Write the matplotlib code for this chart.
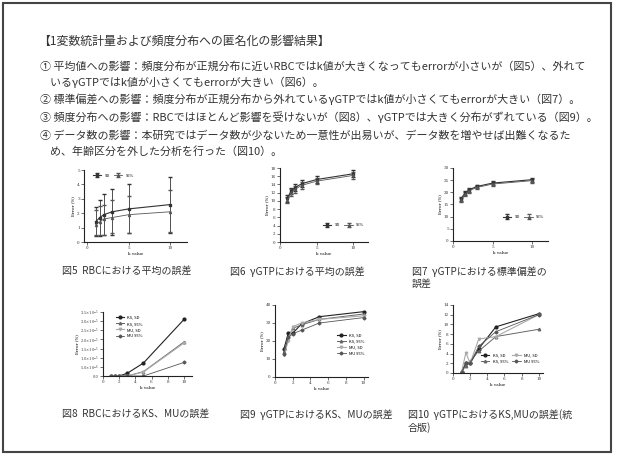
import numpy as np
import matplotlib
matplotlib.use("Agg")
from matplotlib import pyplot as plt
from matplotlib.patches import Rectangle

plt.rcParams['font.family'] = ['Noto Sans CJK JP', 'DejaVu Sans']
plt.rcParams['mathtext.fontset'] = 'dejavuserif'

W, H = 622, 459

# ---- text ----
title = "【1変数統計量および頻度分布への匿名化の影響結果】"
body = [
    "① 平均値への影響：頻度分布が正規分布に近いRBCではk値が大きくなってもerrorが小さいが（図5）、外れて",
    "    いるγGTPではk値が小さくてもerrorが大きい（図6）。",
    "② 標準偏差への影響：頻度分布が正規分布から外れているγGTPではk値が小さくてもerrorが大きい（図7）。",
    "③ 頻度分布への影響：RBCではほとんど影響を受けないが（図8）、γGTPでは大きく分布がずれている（図9）。",
    "④ データ数の影響：本研究ではデータ数が少ないため一意性が出易いが、データ数を増やせば出難くなるた",
    "    め、年齢区分を外した分析を行った（図10）。",
]
captions = ["図5  RBCにおける平均の誤差", "図6  γGTPにおける平均の誤差",
            "図7  γGTPにおける標準偏差の\n誤差",
            "図8  RBCにおけるKS、MUの誤差", "図9  γGTPにおけるKS、MUの誤差",
            "図10  γGTPにおけるKS,MUの誤差(統\n合版)"]

# ---- data ----
k_values = [1, 1.5, 2, 3, 5, 10]

# fig5 RBC mean error
rbc_sd = [1.4, 1.7, 1.9, 2.1, 2.3, 2.6]
rbc_sd_lo = [0.4, 0.4, 0.5, 0.5, 0.6, 0.6]
rbc_sd_hi = [2.4, 2.9, 3.3, 3.7, 4.0, 4.5]
rbc_95 = [1.2, 1.4, 1.6, 1.7, 1.9, 2.1]
rbc_95_lo = [0.5, 0.5, 0.5, 0.6, 0.6, 0.7]
rbc_95_hi = [2.2, 2.5, 2.6, 2.9, 3.2, 3.6]

# fig6 gGTP mean error
gtp_mean_sd = [10.6, 12.4, 13.2, 14.2, 15.2, 16.6]
gtp_mean_95 = [10.2, 12.0, 12.8, 13.8, 14.8, 16.2]
gtp_mean_err = [0.8, 0.8, 0.8, 0.8, 0.8, 0.8]

# fig7 gGTP sd error
gtp_std_sd = [17.4, 19.6, 21.0, 22.4, 23.8, 25.2]
gtp_std_95 = [17.0, 19.2, 20.6, 22.0, 23.4, 24.8]
gtp_std_err = [0.8, 0.8, 0.8, 0.8, 0.8, 0.8]

# fig8 RBC KS/MU (x1e-5)
rbc_ks_sd = [0, 0, 0, 0.15, 0.71, 3.09]
rbc_ks_95 = [0, 0, 0, 0, 0.24, 1.86]
rbc_mu_sd = [0, 0, 0, 0, 0.22, 1.80]
rbc_mu_95 = [0, 0, 0, 0, 0.0, 0.74]

# fig9 gGTP KS/MU
gtp_ks_sd = [15.5, 24.3, 24.3, 29.5, 33.5, 36.3]
gtp_ks_95 = [14.0, 22.0, 27.0, 29.0, 32.0, 35.0]
gtp_mu_sd = [12.0, 20.0, 28.0, 30.0, 32.0, 34.0]
gtp_mu_95 = [13.0, 22.0, 24.0, 26.0, 30.0, 33.0]

# fig10 gGTP KS/MU combined
all_ks_sd = [0.2, 2.0, 2.0, 5.0, 9.5, 12.2]
all_ks_95 = [0.2, 1.5, 2.5, 4.5, 7.5, 9.0]
all_mu_sd = [0.2, 4.2, 2.0, 7.0, 7.5, 12.0]
all_mu_95 = [0.2, 2.0, 2.0, 5.5, 8.5, 12.0]

fig = plt.figure(figsize=(W / 100, H / 100), dpi=100)
fig.patch.set_facecolor('white')
fig.add_artist(Rectangle((3 / W, 1 - 452 / H), 608 / W, 449 / H, transform=fig.transFigure,
                         fill=False, edgecolor='#444444', linewidth=1.5))

def px(x, y):
    return x / W, 1 - y / H

tc = '#333333'
fig.text(*px(38, 41), title, fontsize=8.6, color=tc, va='center')
for y, line in zip([66, 82, 99, 117, 135, 151], body):
    fig.text(*px(40, y), line, fontsize=7.9, color=tc, va='center')

def make_ax(l, t, r, b):
    ax = fig.add_axes([l / W, 1 - b / H, (r - l) / W, (b - t) / H])
    for s in ['top', 'right']:
        ax.spines[s].set_visible(False)
    for s in ['left', 'bottom']:
        ax.spines[s].set_linewidth(0.8)
        ax.spines[s].set_color('#222222')
    ax.tick_params(labelsize=3, length=2, width=0.5, pad=1, colors='#333333')
    ax.set_xlabel('k value', fontsize=3, labelpad=1, family='DejaVu Serif')
    ax.set_ylabel('Error (%)', fontsize=3, labelpad=1, family='DejaVu Serif')
    for lab in ax.get_xticklabels() + ax.get_yticklabels():
        lab.set_family('DejaVu Serif')
    return ax

# fig5
ax = make_ax(84, 170, 187, 242)
ax.errorbar(k_values, rbc_sd, yerr=[np.subtract(rbc_sd, rbc_sd_lo), np.subtract(rbc_sd_hi, rbc_sd)],
            color='#333333', lw=0.8, elinewidth=0.6, capsize=1.5, marker='s', ms=1.5, label='SD')
ax.errorbar(k_values, rbc_95, yerr=[np.subtract(rbc_95, rbc_95_lo), np.subtract(rbc_95_hi, rbc_95)],
            color='#555555', lw=0.6, elinewidth=0.5, capsize=1.5, marker='^', ms=1.5, label='95%')
ax.set_xlim(-0.4, 12)
ax.set_ylim(0, 5)
ax.set_xticks([0, 5, 10])
ax.set_yticks(range(0, 6))
ax.legend(fontsize=3, frameon=False, ncol=2, loc='upper left', handlelength=2, columnspacing=1,
          bbox_to_anchor=(0.05, 1.0))

# fig6
ax = make_ax(280, 168, 368, 242)
ax.errorbar(k_values, gtp_mean_sd, yerr=gtp_mean_err, color='#333333', lw=0.8, elinewidth=0.6,
            capsize=1.5, marker='s', ms=1.5, label='SD')
ax.errorbar(k_values, gtp_mean_95, yerr=gtp_mean_err, color='#555555', lw=0.6, elinewidth=0.5,
            capsize=1.5, marker='^', ms=1.5, label='95%')
ax.set_xlim(0, 12)
ax.set_ylim(0, 18)
ax.set_xticks([0, 5, 10])
ax.set_yticks(range(0, 19, 2))
ax.legend(fontsize=3, frameon=False, ncol=2, loc='lower right', handlelength=2, columnspacing=1,
          bbox_to_anchor=(1.0, 0.15))

# fig7
ax = make_ax(453, 168, 548, 241)
ax.errorbar(k_values, gtp_std_sd, yerr=gtp_std_err, color='#333333', lw=0.8, elinewidth=0.6,
            capsize=1.5, marker='s', ms=1.5, label='SD')
ax.errorbar(k_values, gtp_std_95, yerr=gtp_std_err, color='#555555', lw=0.6, elinewidth=0.5,
            capsize=1.5, marker='^', ms=1.5, label='95%')
ax.set_xlim(0, 12)
ax.set_ylim(0, 30)
ax.set_xticks([0, 5, 10])
ax.set_yticks(range(0, 31, 5))
ax.legend(fontsize=3, frameon=False, ncol=2, loc='lower right', handlelength=2, columnspacing=1,
          bbox_to_anchor=(1.0, 0.25))

def four_lines(ax, a, b, c, d):
    ax.plot(k_values, a, color='#222222', lw=0.8, marker='o', ms=2, label='KS, SD')
    ax.plot(k_values, b, color='#666666', lw=0.7, marker='^', ms=1.8, label='KS, 95%')
    ax.plot(k_values, c, color='#aaaaaa', lw=0.8, marker='v', ms=1.8, label='MU, SD')
    ax.plot(k_values, d, color='#555555', lw=0.6, marker='D', ms=1.5, label='MU 95%')

# fig8
ax = make_ax(103, 312, 192, 376)
four_lines(ax, rbc_ks_sd, rbc_ks_95, rbc_mu_sd, rbc_mu_95)
ax.set_xlim(0, 11)
ax.set_ylim(0, 3.5)
ax.set_xticks(range(0, 11, 2))
yt = [0, 0.5, 1.0, 1.5, 2.0, 2.5, 3.0, 3.5]
ax.set_yticks(yt)
ax.set_yticklabels(['0.0'] + [r'$%.1f{\times}10^{-%d}$' % ((v, 5) if v >= 1 else (v * 10, 6)) for v in yt[1:]],
                   fontsize=2.6)
ax.set_ylabel('Error (%)', fontsize=3, labelpad=0.5, family='DejaVu Serif')
ax.legend(fontsize=3, frameon=False, loc='upper left', handlelength=2, bbox_to_anchor=(0.1, 1.0))

# fig9
ax = make_ax(275, 305, 368, 377)
four_lines(ax, gtp_ks_sd, gtp_ks_95, gtp_mu_sd, gtp_mu_95)
ax.set_xlim(0, 10.5)
ax.set_ylim(0, 40)
ax.set_xticks(range(0, 11, 2))
ax.set_yticks(range(0, 41, 10))
ax.legend(fontsize=3, frameon=False, loc='center right', handlelength=2, bbox_to_anchor=(1.0, 0.45))

# fig10
ax = make_ax(453, 305, 543, 373)
four_lines(ax, all_ks_sd, all_ks_95, all_mu_sd, all_mu_95)
ax.set_xlim(0, 10.5)
ax.set_ylim(0, 14)
ax.set_xticks(range(0, 11, 2))
ax.set_yticks(range(0, 15, 2))
ax.legend(fontsize=3, frameon=False, ncol=2, loc='lower right', handlelength=2, columnspacing=1,
          bbox_to_anchor=(1.0, 0.08))

# captions
cap_pos = [(62, 266), (230, 266), (412, 266), (62, 409), (240, 409), (408, 409)]
for (x, y), c in zip(cap_pos, captions):
    fig.text(*px(x, y), c, fontsize=7.2, color=tc, va='top', linespacing=1.3)

fig.savefig('out.png', dpi=100)
